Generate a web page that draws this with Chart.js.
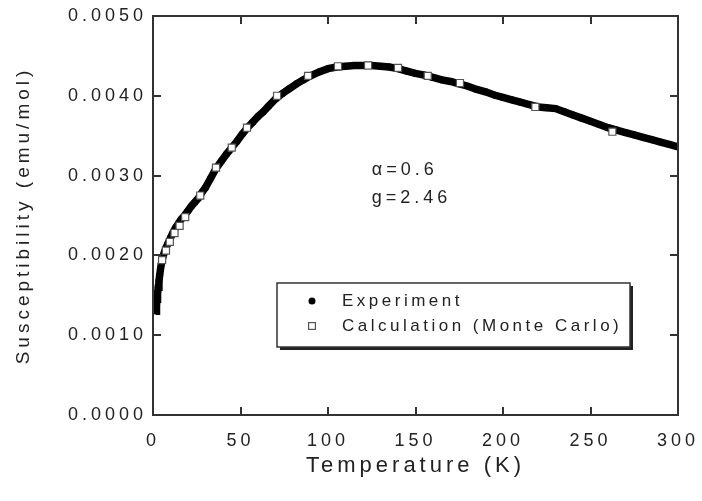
<!DOCTYPE html>
<html><head><meta charset="utf-8">
<script src="https://cdn.jsdelivr.net/npm/chart.js@4.4.1/dist/chart.umd.min.js"></script>
<style>html,body{margin:0;padding:0;background:#fff;}canvas{display:block;}</style>
</head><body>
<canvas id="c" width="702" height="501"></canvas>
<script>
// ---- data ----
const expT = [1.8, 2.0, 2.3, 2.6, 3.0, 3.4, 3.8, 4.3, 4.8, 5.5, 6.5, 7.5, 8.5, 10, 11.5, 13, 14.5, 16, 18, 20, 22, 24, 26, 28, 30, 33, 36, 39, 42, 45, 48, 51, 54, 57, 60, 63, 66, 70, 74, 78, 82, 86, 90, 95, 100, 105, 110, 115, 120, 125, 130, 135, 140, 145, 150, 155, 160, 165, 170, 175, 180, 185, 190, 195, 200, 205, 210, 215, 220, 225, 230, 235, 240, 245, 250, 255, 260, 265, 270, 275, 280, 285, 290, 295, 300];
const expChi = [0.00130, 0.00137, 0.00145, 0.00152, 0.00160, 0.00168, 0.00175, 0.00183, 0.00190, 0.00197, 0.00204, 0.00210, 0.00215, 0.00222, 0.00229, 0.00235, 0.00240, 0.00245, 0.00250, 0.00256, 0.00262, 0.00267, 0.00272, 0.00279, 0.00285, 0.00297, 0.00309, 0.00318, 0.00327, 0.00335, 0.00343, 0.00352, 0.00360, 0.00367, 0.00374, 0.00380, 0.00387, 0.00396, 0.00403, 0.00409, 0.00415, 0.00420, 0.00425, 0.00430, 0.00434, 0.00436, 0.00437, 0.00438, 0.00438, 0.00438, 0.00437, 0.00436, 0.00434, 0.00431, 0.00428, 0.00426, 0.00423, 0.00420, 0.00418, 0.00415, 0.00412, 0.00408, 0.00405, 0.00401, 0.00398, 0.00395, 0.00392, 0.00389, 0.00386, 0.00385, 0.00384, 0.00380, 0.00376, 0.00372, 0.00368, 0.00364, 0.00360, 0.00357, 0.00354, 0.00351, 0.00348, 0.00345, 0.00342, 0.00339, 0.00336];
const calcT = [5.2, 7.4, 9.6, 12.3, 15.2, 18.4, 27, 36, 45, 53.7, 70.9, 88.6, 105.7, 122.9, 140, 157, 175.4, 218.5, 262.5];
const calcChi = [0.00194, 0.00206, 0.00217, 0.00228, 0.00237, 0.00248, 0.00275, 0.00310, 0.00335, 0.00360, 0.00400, 0.00425, 0.00437, 0.00438, 0.00435, 0.00425, 0.00416, 0.00386, 0.00355];
const xTickValues = [0, 50, 100, 150, 200, 250, 300];
const yTickValues = [0, 0.001, 0.002, 0.003, 0.004, 0.005];
const seriesLabels = ['Experiment', 'Calculation (Monte Carlo)'];
const noteLines = ['\u03B1=0.6', 'g=2.46'];
const noteAnchorT = 125;
const noteAnchorChi = [0.00307, 0.00272];
const xTitle = 'Temperature (K)';
const yTitle = 'Susceptibility (emu/mol)';

// ---- styling ----
const FONT = "'Liberation Sans', Arial, Helvetica, sans-serif";
const INK = '#222';
const FRAME = '#333';
const SPACING = '4px';
Chart.defaults.font.family = FONT;
Chart.defaults.color = INK;

function drawFrame(chart) {
  const {ctx, scales: {x, y}} = chart;
  const L0 = Math.round(x.getPixelForValue(xTickValues[0]));
  const R0 = Math.round(x.getPixelForValue(xTickValues[xTickValues.length - 1]));
  const B0 = Math.round(y.getPixelForValue(yTickValues[0]));
  const T0 = Math.round(y.getPixelForValue(yTickValues[yTickValues.length - 1]));
  ctx.save();
  ctx.globalAlpha = 1;
  ctx.globalCompositeOperation = 'source-over';
  ctx.fillStyle = FRAME;
  ctx.fillRect(L0 - 1, T0 - 1, R0 - L0 + 2, 2);
  ctx.fillRect(L0 - 1, B0 - 1, R0 - L0 + 2, 2);
  ctx.fillRect(L0 - 1, T0 - 1, 2, B0 - T0 + 2);
  ctx.fillRect(R0 - 1, T0 - 1, 2, B0 - T0 + 2);
  const L = 8, w = 2;
  x.ticks.forEach(t => {
    const px = Math.round(x.getPixelForValue(t.value));
    if (px <= L0 + 1 || px >= R0 - 1) return;
    ctx.fillRect(px - 1, B0 - L, w, L);
    ctx.fillRect(px - 1, T0, w, L);
  });
  y.ticks.forEach(t => {
    const py = Math.round(y.getPixelForValue(t.value));
    if (py <= T0 + 1 || py >= B0 - 1) return;
    ctx.fillRect(L0, py - 1, L, w);
    ctx.fillRect(R0 - L, py - 1, L, w);
  });
  ctx.restore();
}

const spacingPlugin = {
  id: 'spacing',
  beforeLayout(chart) { chart.ctx.letterSpacing = SPACING; },
  beforeDraw(chart) { chart.ctx.letterSpacing = SPACING; }
};

const framePlugin = {
  id: 'frame',
  beforeDatasetsDraw(chart) { drawFrame(chart); },
  afterDraw(chart) {
    drawFrame(chart);
    const {ctx, scales: {x, y}} = chart;
    const L0 = x.getPixelForValue(xTickValues[0]);
    const T0 = y.getPixelForValue(yTickValues[yTickValues.length - 1]);
    ctx.save();
    ctx.letterSpacing = SPACING;
    ctx.fillStyle = INK;
    ctx.font = '18px ' + FONT;
    ctx.textAlign = 'left';
    ctx.textBaseline = 'middle';
    noteLines.forEach((s, i) => {
      ctx.fillText(s, x.getPixelForValue(noteAnchorT), y.getPixelForValue(noteAnchorChi[i]));
    });

    const bx = L0 + 124, by = T0 + 267, bw = 353, bh = 64;
    ctx.fillStyle = '#222';
    ctx.fillRect(bx + 3, by + 3, bw, bh);
    ctx.fillStyle = FRAME;
    ctx.fillRect(bx - 0.75, by - 0.75, bw + 1.5, bh + 1.5);
    ctx.fillStyle = '#fff';
    ctx.fillRect(bx + 0.75, by + 0.75, bw - 1.5, bh - 1.5);
    const mx = bx + 35;
    const rows = [by + 18, by + 43];
    ctx.fillStyle = '#000';
    ctx.beginPath(); ctx.arc(mx, rows[0], 3.5, 0, Math.PI * 2); ctx.fill();
    ctx.fillStyle = '#555';
    ctx.fillRect(mx - 4, rows[1] - 4, 8, 8);
    ctx.fillStyle = '#fff';
    ctx.fillRect(mx - 2.8, rows[1] - 2.8, 5.6, 5.6);
    ctx.fillStyle = INK;
    ctx.letterSpacing = '3.5px';
    ctx.font = '17px ' + FONT;
    ctx.fillText(seriesLabels[0], bx + 65, rows[0]);
    ctx.fillText(seriesLabels[1], bx + 65, rows[1]);
    ctx.restore();
  }
};

new Chart(document.getElementById('c'), {
  type: 'scatter',
  data: {
    datasets: [
      {
        label: seriesLabels[0],
        data: expT.map((t, i) => ({x: t, y: expChi[i]})),
        showLine: true,
        borderColor: '#000',
        borderWidth: 7.5,
        pointRadius: 3.5,
        pointBackgroundColor: '#000',
        pointBorderWidth: 0,
        tension: 0,
        order: 2
      },
      {
        label: seriesLabels[1],
        data: calcT.map((t, i) => ({x: t, y: calcChi[i]})),
        showLine: false,
        pointStyle: 'rect',
        pointRadius: 5,
        pointBackgroundColor: '#fff',
        pointBorderColor: '#555',
        pointBorderWidth: 1.2,
        order: 1
      }
    ]
  },
  options: {
    responsive: false,
    animation: false,
    layout: {padding: {left: 0, top: 16, right: 24, bottom: 0}, autoPadding: false},
    plugins: {legend: {display: false}, tooltip: {enabled: false}},
    scales: {
      x: {
        type: 'linear', min: 0, max: 300,
        afterBuildTicks: s => { s.ticks = xTickValues.map(v => ({value: v})); },
        afterFit: s => { s.height = 86; s.paddingLeft = 0; s.paddingRight = 0; },
        grid: {display: false, drawTicks: false},
        border: {display: true, color: FRAME, width: 2},
        ticks: {font: {size: 18}, color: INK, padding: 15, maxRotation: 0},
        title: {display: true, text: xTitle, font: {size: 22}, color: INK, padding: {top: 0, bottom: 22}}
      },
      y: {
        type: 'linear', min: 0, max: 0.005,
        afterBuildTicks: s => { s.ticks = yTickValues.map(v => ({value: v})); },
        afterFit: s => { s.width = 153; s.paddingTop = 0; s.paddingBottom = 0; },
        grid: {display: false, drawTicks: false},
        border: {display: true, color: FRAME, width: 2},
        ticks: {font: {size: 18}, color: INK, padding: 6, callback: v => Number(v).toFixed(4)},
        title: {display: true, text: yTitle, font: {size: 19}, color: INK, padding: {top: 12, bottom: 0}}
      }
    }
  },
  plugins: [spacingPlugin, framePlugin]
});
</script>
</body></html>
